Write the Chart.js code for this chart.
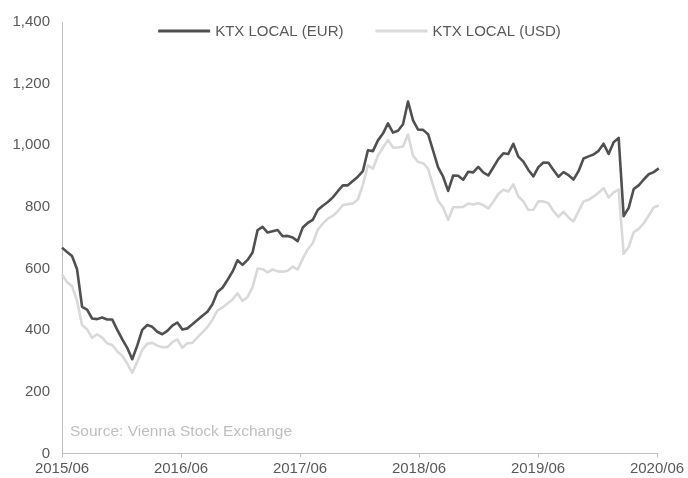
<!DOCTYPE html>
<html>
<head>
<meta charset="utf-8">
<script src="https://cdn.jsdelivr.net/npm/chart.js@4.4.1/dist/chart.umd.min.js"></script>
<style>
html,body{margin:0;padding:0;background:#ffffff;}
canvas{display:block;}
</style>
</head>
<body>
<canvas id="c" width="688" height="478"></canvas>
<script>
// ---- data ----
const seriesNames = ['KTX LOCAL (EUR)', 'KTX LOCAL (USD)'];
const xTickLabels = ['2015/06', '2016/06', '2017/06', '2018/06', '2019/06', '2020/06'];
const sourceNote = 'Source: Vienna Stock Exchange';
const sampleStepMonths = 0.5057; // spacing of samples (months since 2015/06)

const ktxEur = [
  668,654,641,598,476,467,438,436,441,435,
  435,402,371,343,306,350,401,417,411,395,
  387,398,415,425,402,406,419,433,447,460,
  484,524,538,563,590,627,612,628,652,725,
  735,717,721,725,705,706,701,689,733,748,
  758,790,804,816,831,851,870,870,884,898,
  916,984,981,1016,1038,1071,1041,1047,1068,1142,
  1081,1051,1050,1036,983,928,898,852,902,901,
  888,914,912,930,912,902,928,955,974,972,
  1005,963,947,920,899,929,944,943,920,898,
  913,903,889,916,957,964,970,982,1005,972,
  1010,1024,770,797,858,870,889,906,913,925
];
const ktxUsd = [
  580,556,543,495,417,403,375,387,376,358,
  352,332,317,292,262,297,336,356,359,350,
  345,345,361,370,343,358,359,377,393,410,
  434,464,474,487,500,520,495,508,540,600,
  598,588,597,591,590,593,606,597,632,662,
  682,726,746,762,771,786,806,809,811,824,
  872,935,924,967,993,1017,993,993,996,1035,
  966,946,942,924,869,820,798,758,799,799,
  800,811,808,812,806,795,817,842,856,850,
  873,834,818,790,791,818,818,812,786,768,
  784,766,753,786,818,823,834,846,861,831,
  847,856,648,670,718,729,747,772,798,805
];

// ---- chart ----
const FONT = '"Liberation Sans", Arial, Helvetica, sans-serif';
const toPoints = arr => arr.map((v, i) => ({ x: i * sampleStepMonths, y: v }));

const overlayPlugin = {
  id: 'overlay',
  afterDraw(chart) {
    const ctx = chart.ctx, a = chart.chartArea;
    ctx.save();
    ctx.font = '15px ' + FONT;
    ctx.textBaseline = 'middle';
    ctx.textAlign = 'left';
    const lineW = 52, gap = 5, itemGap = 32;
    const items = chart.data.datasets.map(d => ({ label: d.label, color: d.borderColor, w: ctx.measureText(d.label).width }));
    const total = items.reduce((s, it) => s + lineW + gap + it.w, 0) + itemGap * (items.length - 1);
    let x = (a.left + a.right) / 2 - total / 2;
    const y = a.top + 9;
    items.forEach(it => {
      ctx.strokeStyle = it.color;
      ctx.lineWidth = 3;
      ctx.beginPath();
      ctx.moveTo(x, y);
      ctx.lineTo(x + lineW, y);
      ctx.stroke();
      x += lineW + gap;
      ctx.fillStyle = '#595959';
      ctx.fillText(it.label, x, y + 0.5);
      x += it.w + itemGap;
    });
    ctx.fillStyle = '#bfbfbf';
    ctx.font = '15.5px ' + FONT;
    ctx.fillText(sourceNote, a.left + 8, a.bottom - 21.5);
    ctx.restore();
  }
};

new Chart(document.getElementById('c'), {
  type: 'line',
  data: {
    datasets: [
      { label: seriesNames[0], data: toPoints(ktxEur), borderColor: '#505050', borderWidth: 2.6,
        pointRadius: 0, tension: 0, clip: false, borderJoinStyle: 'round' },
      { label: seriesNames[1], data: toPoints(ktxUsd), borderColor: '#d9d9d9', borderWidth: 2.6,
        pointRadius: 0, tension: 0, clip: false, borderJoinStyle: 'round' }
    ]
  },
  options: {
    responsive: false,
    animation: false,
    layout: { padding: { top: 22, right: 31, bottom: 0, left: 0 } },
    plugins: { legend: { display: false }, tooltip: { enabled: false } },
    scales: {
      x: {
        type: 'linear', min: 0, max: 60,
        grid: { display: true, drawOnChartArea: false, drawTicks: true, tickLength: 4, color: '#bfbfbf' },
        border: { display: true, color: '#bfbfbf', width: 1 },
        ticks: {
          stepSize: 12, padding: 2, color: '#595959', maxRotation: 0, autoSkip: false,
          font: { size: 15, family: FONT },
          callback: v => xTickLabels[Math.round(v / 12)]
        },
        afterFit(s) { s.height = 24.5; s.paddingLeft = 0; s.paddingRight = 0; }
      },
      y: {
        min: 0, max: 1400,
        grid: { display: false, drawTicks: false },
        border: { display: true, color: '#bfbfbf', width: 1 },
        ticks: {
          stepSize: 200, padding: 12, color: '#595959',
          font: { size: 15, family: FONT },
          callback: v => v.toLocaleString('en-US')
        },
        afterFit(s) { s.width = 62; }
      }
    }
  },
  plugins: [overlayPlugin]
});
</script>
</body>
</html>
